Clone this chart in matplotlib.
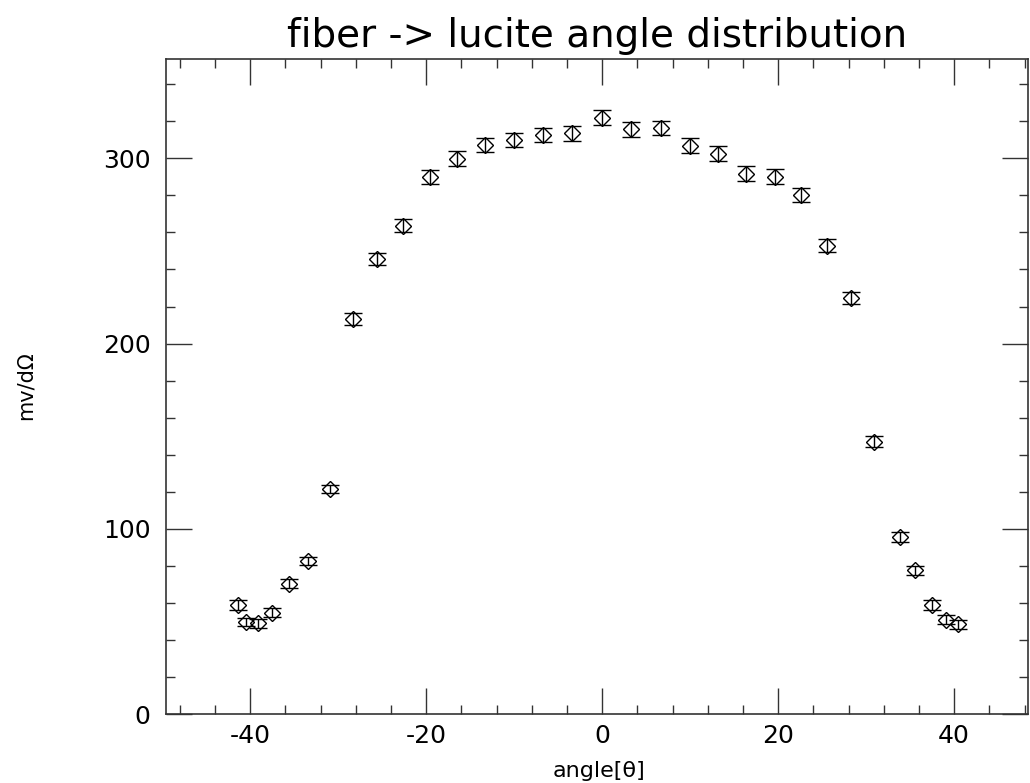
import matplotlib
matplotlib.use('Agg')
import matplotlib.pyplot as plt
from matplotlib.ticker import MultipleLocator

plt.rcParams['axes.unicode_minus'] = False
plt.rcParams['font.family'] = ['DejaVu Sans']

angle = [-41.4, -40.45, -39.1, -37.5, -35.6, -33.4, -30.95, -28.3, -25.6, -22.65,
         -19.6, -16.5, -13.3, -10.0, -6.7, -3.4, 0.0, 3.3, 6.7, 10.0,
         13.2, 16.4, 19.6, 22.6, 25.5, 28.3, 30.9, 33.9, 35.5, 37.5,
         39.1, 40.4]
signal = [58.9, 49.8, 49.0, 54.7, 70.4, 82.6, 121.5, 213.3, 245.7, 263.7,
          290.1, 299.7, 307.2, 309.9, 312.6, 313.5, 322.0, 315.7, 316.4, 306.9,
          302.5, 291.7, 290.1, 280.2, 252.7, 224.5, 147.0, 95.6, 77.6, 58.9,
          50.8, 48.4]
err = [2.6, 2.3, 2.3, 2.4, 2.5, 2.4, 2.4, 3.1, 3.4, 3.5,
       3.8, 4.0, 4.0, 4.0, 4.0, 4.0, 4.2, 4.0, 4.0, 4.0,
       4.0, 3.9, 3.9, 3.8, 3.5, 3.2, 2.9, 2.6, 2.5, 2.6,
       2.4, 2.3]

fig = plt.figure(figsize=(10.3, 7.83), dpi=100)
ax = fig.add_axes([0.1609, 0.0881, 0.8372, 0.8365])

ax.errorbar(angle, signal, yerr=err, fmt='D', ms=8.3, mfc='none', mec='black',
            mew=1.0, ecolor='black', elinewidth=1.0, capsize=6.5, capthick=1.2)

ax.set_xlim(-49.6, 48.4)
ax.set_ylim(0, 353.6)
ax.xaxis.set_major_locator(MultipleLocator(20))
ax.xaxis.set_minor_locator(MultipleLocator(4))
ax.yaxis.set_major_locator(MultipleLocator(100))
ax.yaxis.set_minor_locator(MultipleLocator(20))

for s in ax.spines.values():
    s.set_color('#333333')
    s.set_linewidth(1.2)
ax.tick_params(which='both', direction='in', top=True, right=True, color='#333333', width=1.0)
ax.tick_params(which='major', length=18.7)
ax.tick_params(which='minor', length=6.5)
ax.tick_params(axis='y', which='major', pad=11, labelsize=18)
ax.tick_params(axis='x', which='major', pad=7.5, labelsize=18)

ax.set_title('fiber -> lucite angle distribution', fontsize=28, pad=9)
fig.text(599/1030, 1 - 777/783, 'angle[θ]', fontsize=16, ha='center', va='baseline')
fig.text(26/1030, 1 - 386/783, 'mv/dΩ', fontsize=15, rotation=90, ha='center', va='center')

plt.savefig('out.png')
